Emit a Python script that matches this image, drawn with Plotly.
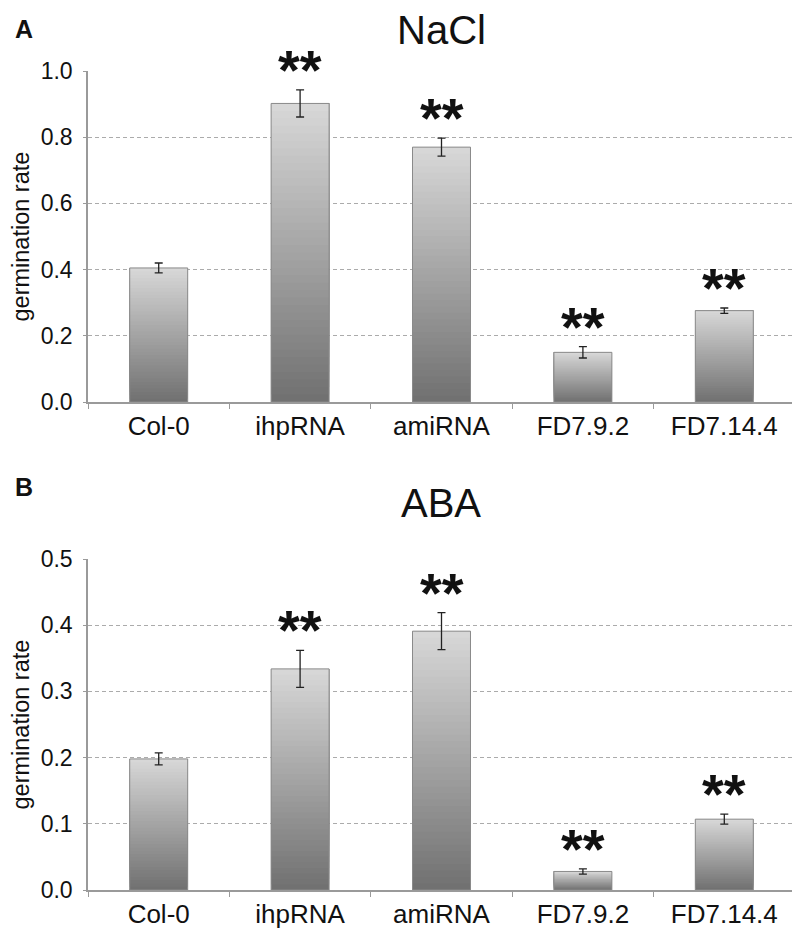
import plotly.graph_objects as go

categories = ["Col-0", "ihpRNA", "amiRNA", "FD7.9.2", "FD7.14.4"]
nacl_values = [0.405, 0.902, 0.770, 0.150, 0.276]
nacl_errors = [0.015, 0.041, 0.027, 0.017, 0.008]
aba_values = [0.198, 0.334, 0.391, 0.028, 0.107]
aba_errors = [0.009, 0.028, 0.028, 0.004, 0.0075]
significant = [False, True, True, True, True]
nacl_ticks = [0.0, 0.2, 0.4, 0.6, 0.8, 1.0]
aba_ticks = [0.0, 0.1, 0.2, 0.3, 0.4, 0.5]

FONT = "Liberation Sans, Arial, sans-serif"
N = 40
dark = (112, 112, 112)
light = (216, 216, 216)

# page body has an 8px margin; layout positions compensate for it
OFF = 8
L, R, W, H = 80, 13, 800, 940
PW = W - L - R


def px(x):
    return (x - OFF - L) / PW


def py(y):
    return (H - (y - OFF)) / H


def col(t):
    return "rgb(%d,%d,%d)" % tuple(round(d + (l - d) * t) for d, l in zip(dark, light))


fig = go.Figure()
panels = [
    (nacl_values, nacl_errors, "x", "y"),
    (aba_values, aba_errors, "x2", "y2"),
]
for vals, errs, xa, ya in panels:
    for k in range(N):
        fig.add_trace(go.Bar(
            x=categories, y=[v * (N - k) / N for v in vals], base=[v * k / N for v in vals],
            marker=dict(color=col((k + 0.5) / N), line=dict(width=0)),
            width=0.41, xaxis=xa, yaxis=ya, showlegend=False, hoverinfo="skip"))
    fig.add_trace(go.Bar(
        x=categories, y=vals,
        marker=dict(color="rgba(0,0,0,0)", line=dict(color="#8a8a8a", width=1)),
        width=0.41, xaxis=xa, yaxis=ya, showlegend=False))
    fig.add_trace(go.Scatter(
        x=categories, y=vals, mode="markers", marker=dict(size=0.1, color="rgba(0,0,0,0)"),
        error_y=dict(type="data", array=errs, visible=True, color="#222", thickness=1.3, width=4),
        xaxis=xa, yaxis=ya, showlegend=False))
    for c, v, e, s in zip(categories, vals, errs, significant):
        if s:
            fig.add_annotation(x=c, y=v + e, xref=xa, yref=ya, text="<b>**</b>", showarrow=False,
                               xanchor="center", yanchor="bottom", yshift=-13,
                               font=dict(family=FONT, size=56, color="#111"))

xaxis_common = dict(domain=[0, 1], showline=True, linecolor="#9a9a9a", linewidth=1.5, ticks="outside",
                    tickcolor="#9a9a9a", tickson="boundaries", ticklen=5, automargin=False,
                    tickfont=dict(family=FONT, size=26, color="#111"))
yaxis_common = dict(showline=True, linecolor="#9a9a9a", linewidth=1.5, ticks="outside",
                    tickcolor="#9a9a9a", ticklen=3, ticklabelstandoff=6, tickformat=".1f",
                    automargin=False, showgrid=True, gridcolor="#ababab", griddash="4px,3px",
                    gridwidth=1, tickfont=dict(family=FONT, size=23, color="#111"))
fig.update_layout(
    width=W, height=H, plot_bgcolor="white", paper_bgcolor="white",
    margin=dict(l=L, r=R, t=0, b=0), barmode="overlay",
    xaxis=dict(anchor="y", **xaxis_common),
    xaxis2=dict(anchor="y2", **xaxis_common),
    yaxis=dict(domain=[py(402), py(71)], range=[0, 1.0], tickvals=nacl_ticks, **yaxis_common),
    yaxis2=dict(domain=[py(890), py(559)], range=[0, 0.5], tickvals=aba_ticks, **yaxis_common),
    showlegend=False,
)

for text, y in [("NaCl", 30), ("ABA", 503)]:
    fig.add_annotation(x=px(441), y=py(y), xref="paper", yref="paper", text=text, showarrow=False,
                       font=dict(family=FONT, size=40, color="#111"), xanchor="center", yanchor="middle")
for text, x, y in [("<b>A</b>", 24, 29.5), ("<b>B</b>", 23.5, 487)]:
    fig.add_annotation(x=px(x), y=py(y), xref="paper", yref="paper", text=text, showarrow=False,
                       font=dict(family=FONT, size=25, color="#111"), xanchor="center", yanchor="middle")
for y in [236.5, 724.5]:
    fig.add_annotation(x=px(20), y=py(y), xref="paper", yref="paper",
                       text="germination rate", textangle=-90, showarrow=False,
                       xanchor="center", yanchor="middle",
                       font=dict(family=FONT, size=23.5, color="#111"))

fig.write_html("out.html")
